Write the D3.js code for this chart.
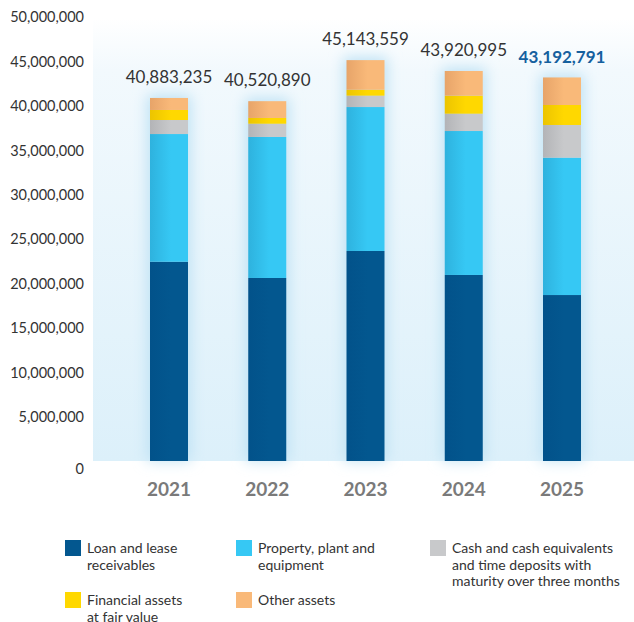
<!DOCTYPE html>
<html>
<head>
<meta charset="utf-8">
<script src="https://cdn.jsdelivr.net/npm/d3@7"></script>
<style>
  html, body { margin: 0; padding: 0; background: #ffffff; }
  svg { display: block; font-family: Lato, "Open Sans", sans-serif; }
</style>
</head>
<body>
<svg id="chart" width="634" height="622"></svg>
<script>
// Fiscal years shown on the x axis
const years = ["2021", "2022", "2023", "2024", "2025"];

// Asset components (yen, thousands), stacked bottom to top
const loanLease   = [22440000, 20610000, 23650000, 20950000, 18690000];
const propertyPPE = [14380000, 15880000, 16210000, 16210000, 15470000];
const cashDeposits = [1580000, 1490000, 1280000, 1950000, 3680000];
const financialFV = [1130000, 650000, 670000, 2030000, 2250000];
const otherAssets = [1353235, 1890890, 3333559, 2780995, 3102791];

// Totals printed above each column
const totals = [40883235, 40520890, 45143559, 43920995, 43192791];

// Y axis tick values
const yTicks = [0, 5000000, 10000000, 15000000, 20000000, 25000000,
                30000000, 35000000, 40000000, 45000000, 50000000];

// Legend labels (one entry per series, split into lines)
const seriesKeys = ["loan", "ppe", "cash", "fin", "other"];
const legendLines = [
  ["Loan and lease", "receivables"],
  ["Property, plant and", "equipment"],
  ["Cash and cash equivalents", "and time deposits with", "maturity over three months"],
  ["Financial assets", "at fair value"],
  ["Other assets"]
];

const colors = {
  loan:  ["#02528a", "#03578f"],
  ppe:   ["#2eb2de", "#36c8f4"],
  cash:  ["#b3b4b7", "#c8c9cb"],
  fin:   ["#ecc400", "#ffd800"],
  other: ["#e7a469", "#f9b979"]
};

const rows = years.map((y, i) => ({
  year: y,
  loan: loanLease[i], ppe: propertyPPE[i], cash: cashDeposits[i],
  fin: financialFV[i], other: otherAssets[i], total: totals[i]
}));

const svg = d3.select("#chart");
const defs = svg.append("defs");

// Plot panel gradient
const pg = defs.append("linearGradient").attr("id", "panelGrad")
  .attr("x1", 0).attr("y1", 0).attr("x2", 0).attr("y2", 1);
pg.append("stop").attr("offset", 0).attr("stop-color", "#ffffff");
pg.append("stop").attr("offset", 0.12).attr("stop-color", "#f2f9fd");
pg.append("stop").attr("offset", 1).attr("stop-color", "#dcf0fa");

// Per-series horizontal shading on the bars
seriesKeys.forEach(k => {
  const g = defs.append("linearGradient").attr("id", "grad-" + k)
    .attr("x1", 0).attr("y1", 0).attr("x2", 1).attr("y2", 0);
  g.append("stop").attr("offset", 0).attr("stop-color", colors[k][0]);
  g.append("stop").attr("offset", 0.55).attr("stop-color", colors[k][1]);
  g.append("stop").attr("offset", 1).attr("stop-color", colors[k][1]);
});

const glow = defs.append("filter").attr("id", "glow")
  .attr("x", "-80%").attr("y", "-20%").attr("width", "260%").attr("height", "140%");
glow.append("feGaussianBlur").attr("stdDeviation", 7);

const baseY = 461;
const y = d3.scaleLinear().domain([0, 50000000]).range([baseY, 17]);
const x = d3.scalePoint().domain(years).range([169, 562]);
const barW = 38;

// Panel
svg.append("rect")
  .attr("x", 93).attr("y", 18).attr("width", 634 - 93).attr("height", baseY - 18)
  .attr("fill", "url(#panelGrad)");

// Soft halo behind the columns
svg.append("g").selectAll("rect").data(rows).join("rect")
  .attr("x", d => x(d.year) - barW / 2 - 3)
  .attr("y", d => y(d.total) - 3)
  .attr("width", barW + 6)
  .attr("height", d => baseY - y(d.total) + 3)
  .attr("fill", "#bfe2f4")
  .attr("filter", "url(#glow)");

// Stacked bars
const stack = d3.stack().keys(seriesKeys)(rows);
svg.append("g").selectAll("g").data(stack).join("g")
  .attr("fill", s => `url(#grad-${s.key})`)
  .selectAll("rect").data(s => s).join("rect")
  .attr("x", d => x(d.data.year) - barW / 2)
  .attr("y", d => y(d[1]))
  .attr("width", barW)
  .attr("height", d => y(d[0]) - y(d[1]));

// Y axis labels
const yAxis = d3.axisLeft(y).tickValues(yTicks).tickFormat(d3.format(",")).tickSize(0).tickPadding(0);
const ya = svg.append("g").attr("transform", "translate(84,0)").call(yAxis);
ya.select(".domain").remove();
ya.selectAll("text")
  .attr("font-family", "Lato, sans-serif")
  .attr("font-size", 14.5)
  .attr("fill", "#333333")
  .attr("dy", d => d === 0 ? "0.85em" : "0.34em");

// Year labels
svg.append("g").selectAll("text").data(years).join("text")
  .attr("x", d => x(d)).attr("y", 489)
  .attr("dy", "0.36em")
  .attr("text-anchor", "middle")
  .attr("font-size", 19).attr("font-weight", 700)
  .attr("fill", "#7a7a7a")
  .text(d => d);

// Totals above bars
svg.append("g").selectAll("text").data(rows).join("text")
  .attr("x", d => x(d.year)).attr("y", d => y(d.total) - 21)
  .attr("dy", "0.36em")
  .attr("text-anchor", "middle")
  .attr("font-size", 17)
  .attr("font-weight", (d, i) => i === rows.length - 1 ? 700 : 400)
  .attr("fill", (d, i) => i === rows.length - 1 ? "#15609e" : "#333333")
  .text(d => d3.format(",")(d.total));

// Legend
const colX = [65, 236, 430];
const rowY = [540, 592];
const lg = svg.append("g").selectAll("g").data(seriesKeys).join("g")
  .attr("transform", (d, i) => `translate(${colX[i % 3]},${rowY[Math.floor(i / 3)]})`);
lg.append("rect").attr("width", 16).attr("height", 16)
  .attr("fill", d => colors[d][1]);
lg.append("text")
  .attr("x", 22).attr("y", 0)
  .attr("font-size", 14).attr("fill", "#333333")
  .selectAll("tspan").data((d, i) => legendLines[i]).join("tspan")
  .attr("x", 22).attr("dy", (d, i) => i === 0 ? "0.95em" : "1.18em")
  .text(d => d);
</script>
</body>
</html>
